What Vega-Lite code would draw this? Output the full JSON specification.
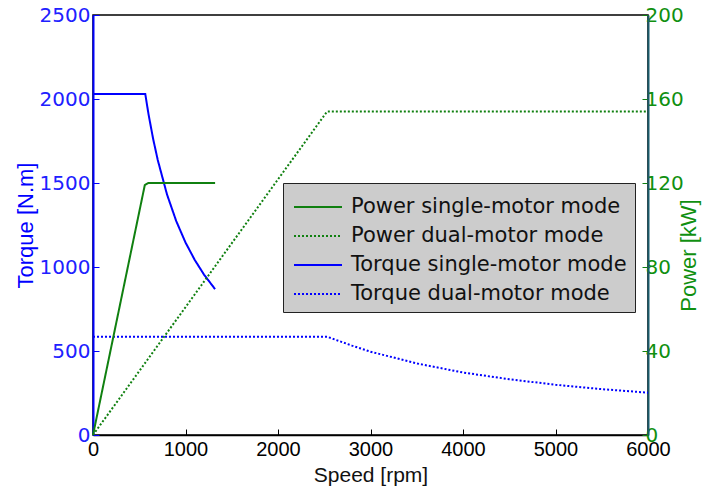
{
  "$schema": "https://vega.github.io/schema/vega-lite/v6.json",
  "autosize": {"type": "none"},
  "width": 555,
  "height": 420,
  "padding": {"left": 93, "top": 15, "right": 57, "bottom": 55},
  "background": "white",
  "config": {
    "view": {"stroke": "black", "strokeWidth": 1.5},
    "axis": {"grid": false, "labelFont": "DejaVu Sans", "titleFont": "Liberation Sans", "titleFontWeight": "normal", "format": "d"}
  },
  "data": {
    "values": [
      {"series": "Torque single-motor mode", "speed": 0, "value": 2030},
      {"series": "Torque single-motor mode", "speed": 565, "value": 2030},
      {"series": "Torque single-motor mode", "speed": 600, "value": 1910},
      {"series": "Torque single-motor mode", "speed": 650, "value": 1763},
      {"series": "Torque single-motor mode", "speed": 700, "value": 1637},
      {"series": "Torque single-motor mode", "speed": 800, "value": 1432},
      {"series": "Torque single-motor mode", "speed": 900, "value": 1273},
      {"series": "Torque single-motor mode", "speed": 1000, "value": 1146},
      {"series": "Torque single-motor mode", "speed": 1100, "value": 1042},
      {"series": "Torque single-motor mode", "speed": 1200, "value": 955},
      {"series": "Torque single-motor mode", "speed": 1320, "value": 868},
      {"series": "Torque dual-motor mode", "speed": 0, "value": 585},
      {"series": "Torque dual-motor mode", "speed": 2530, "value": 585},
      {"series": "Torque dual-motor mode", "speed": 2800, "value": 532},
      {"series": "Torque dual-motor mode", "speed": 3000, "value": 496},
      {"series": "Torque dual-motor mode", "speed": 3500, "value": 426},
      {"series": "Torque dual-motor mode", "speed": 4000, "value": 372},
      {"series": "Torque dual-motor mode", "speed": 4500, "value": 332},
      {"series": "Torque dual-motor mode", "speed": 5000, "value": 299},
      {"series": "Torque dual-motor mode", "speed": 5500, "value": 273},
      {"series": "Torque dual-motor mode", "speed": 6000, "value": 252},
      {"series": "Power single-motor mode", "speed": 0, "value": 0},
      {"series": "Power single-motor mode", "speed": 560, "value": 119},
      {"series": "Power single-motor mode", "speed": 600, "value": 120},
      {"series": "Power single-motor mode", "speed": 1320, "value": 120},
      {"series": "Power dual-motor mode", "speed": 0, "value": 0},
      {"series": "Power dual-motor mode", "speed": 2530, "value": 154},
      {"series": "Power dual-motor mode", "speed": 6000, "value": 154}
    ]
  },
  "encoding": {
    "x": {
      "field": "speed", "type": "quantitative",
      "scale": {"domain": [0, 6000], "nice": false},
      "axis": {
        "title": "Speed [rpm]", "values": [0, 1000, 2000, 3000, 4000, 5000, 6000],
        "domainColor": "black", "domainWidth": 1.5, "tickColor": "black", "tickSize": -6,
        "labelColor": "black", "labelFont": "Liberation Sans", "labelFontSize": 20, "labelPadding": 10,
        "titleColor": "#111111", "titleFontSize": 21, "titlePadding": 5, "labelFlush": false
      }
    },
    "color": {
      "field": "series", "type": "nominal",
      "scale": {
        "domain": ["Power single-motor mode", "Power dual-motor mode", "Torque single-motor mode", "Torque dual-motor mode"],
        "range": ["#108010", "#108010", "#0000ff", "#0000ff"]
      },
      "legend": {
        "title": null, "orient": "none", "legendX": 190, "legendY": 168,
        "fillColor": "#cccccc", "strokeColor": "#222222", "padding": 8,
        "labelFont": "DejaVu Sans", "labelFontSize": 21, "labelColor": "#111111", "labelLimit": 400, "labelOffset": 17,
        "symbolType": "M-1.6,0H1.6", "symbolSize": 900, "symbolStrokeWidth": 2, "symbolOffset": 11, "rowPadding": 3
      }
    },
    "strokeDash": {
      "field": "series", "type": "nominal",
      "scale": {
        "domain": ["Power single-motor mode", "Power dual-motor mode", "Torque single-motor mode", "Torque dual-motor mode"],
        "range": [[1, 0], [2, 2], [1, 0], [2, 2]]
      },
      "legend": null
    }
  },
  "layer": [
    {
      "transform": [{"filter": "indexof(datum.series, 'Torque') === 0"}],
      "mark": {"type": "line", "strokeWidth": 2},
      "encoding": {
        "y": {
          "field": "value", "type": "quantitative",
          "scale": {"domain": [0, 2500], "nice": false},
          "axis": {
            "title": "Torque [N.m]", "orient": "left", "values": [0, 500, 1000, 1500, 2000, 2500],
            "domainColor": "#0000ff", "domainWidth": 2, "tickColor": "#0000ff", "tickSize": -6,
            "labelColor": "#2020ff", "labelFontSize": 20, "labelPadding": 9,
            "titleColor": "#0000ff", "titleFontSize": 22, "titlePadding": 2, "labelFlush": false
          }
        }
      }
    },
    {
      "transform": [{"filter": "indexof(datum.series, 'Power') === 0"}],
      "mark": {"type": "line", "strokeWidth": 2},
      "encoding": {
        "y": {
          "field": "value", "type": "quantitative",
          "scale": {"domain": [0, 200], "nice": false},
          "axis": {
            "title": "Power [kW]", "orient": "right", "values": [0, 40, 80, 120, 160, 200],
            "domainColor": "#1a5a6a", "domainWidth": 2, "tickColor": "#108010", "tickSize": -6,
            "labelColor": "#109010", "labelFontSize": 20, "labelPadding": 3,
            "titleColor": "#109010", "titleFontSize": 22, "titleAngle": 270, "titleX": 47, "titleY": 240,
            "titleBaseline": "alphabetic", "titleAlign": "center", "labelFlush": false
          }
        }
      }
    }
  ],
  "resolve": {"scale": {"y": "independent"}}
}
